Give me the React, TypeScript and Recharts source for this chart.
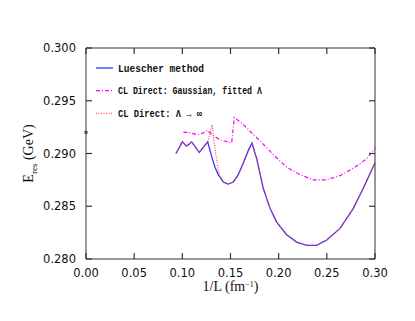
import { ComposedChart, Line, Scatter, XAxis, YAxis, Legend } from 'recharts';

// [1/L in fm^-1, E_res in GeV]
const luescher: [number, number][] = [
  [0.0934, 0.29], [0.1, 0.2911], [0.1045, 0.2907], [0.1097, 0.2911], [0.1176, 0.2901],
  [0.1263, 0.2911], [0.1305, 0.2897], [0.1339, 0.2887], [0.1373, 0.288], [0.1425, 0.2873],
  [0.1477, 0.2871], [0.1529, 0.2873], [0.1581, 0.288], [0.1633, 0.2891], [0.1685, 0.2903],
  [0.1723, 0.291], [0.1772, 0.2895], [0.184, 0.2867], [0.191, 0.2848], [0.1979, 0.2835],
  [0.2083, 0.2823], [0.2187, 0.2816], [0.2291, 0.2813], [0.2395, 0.2813], [0.2499, 0.2818],
  [0.2637, 0.2829], [0.2775, 0.2848], [0.2878, 0.2867], [0.3, 0.2891],
];

const clGaussian: [number, number][] = [
  [0.101, 0.292], [0.1062, 0.292], [0.1149, 0.2918], [0.1204, 0.2919], [0.1263, 0.2922],
  [0.1305, 0.2918], [0.1391, 0.2913], [0.1512, 0.291], [0.1539, 0.2934], [0.1616, 0.2929],
  [0.1737, 0.2918], [0.1806, 0.2912], [0.1944, 0.2899], [0.2083, 0.2887], [0.2221, 0.288],
  [0.2359, 0.2875], [0.2499, 0.2875], [0.2637, 0.2879], [0.2775, 0.2886], [0.2914, 0.2895],
  [0.3, 0.2905],
];

const clInfinite: [number, number][] = [
  [0.0934, 0.29], [0.1, 0.2911], [0.1045, 0.2907], [0.1097, 0.2911], [0.1176, 0.2901],
  [0.1263, 0.2911], [0.1311, 0.2927], [0.1321, 0.2916], [0.1356, 0.2894], [0.1384, 0.288],
  [0.1425, 0.2873], [0.1477, 0.2871], [0.1529, 0.2873], [0.1581, 0.288], [0.1633, 0.289],
  [0.1685, 0.2902], [0.1725, 0.2908], [0.1772, 0.2895], [0.184, 0.2867], [0.191, 0.2848],
  [0.1979, 0.2835], [0.2083, 0.2823], [0.2187, 0.2816], [0.2291, 0.2813], [0.2395, 0.2813],
  [0.2499, 0.2818], [0.2637, 0.2829], [0.2775, 0.2848], [0.2878, 0.2867], [0.3, 0.2891],
];

const limitPoint: [number, number][] = [[0, 0.292]];

const xTicks = [0, 0.05, 0.1, 0.15, 0.2, 0.25, 0.3];
const yTicks = [0.28, 0.285, 0.29, 0.295, 0.3];

const legendItems = [
  { label: 'Luescher method', color: '#3333ff', dash: undefined, width: 86 },
  { label: 'CL Direct: Gaussian, fitted Λ', color: '#ff00ff', dash: '4 2 1 2', width: 144 },
  { label: 'CL Direct: Λ → ∞', color: '#ff4444', dash: '1 1.5', width: 84 },
];

const toRows = (pts: [number, number][]) => pts.map(([x, y]) => ({ x, y }));

const AXIS = '#333';
const tickLineStyle = { stroke: '#333', strokeWidth: 1.2 };

const bottomLabel = ({ x, y, payload }: any) => (
  <text x={x} y={y + 9} textAnchor="middle" fontFamily="DejaVu Sans" fontSize={11.5} fill="#111">
    {payload.value.toFixed(2)}
  </text>
);

const leftLabel = ({ x, y, payload }: any) => (
  <text x={x} y={y + 4.2} textAnchor="end" fontFamily="DejaVu Sans" fontSize={11.5} fill="#111">
    {payload.value.toFixed(3)}
  </text>
);

const noLabel = () => <g />;

function XTitle({ viewBox }: any) {
  const cx = viewBox.x + viewBox.width / 2;
  return (
    <text x={cx} y={291} textAnchor="middle" fontFamily="Liberation Serif" fontSize={14} fill="#111">
      1/L  (fm<tspan dy={-4} fontSize={8}>−1</tspan><tspan dy={4}>)</tspan>
    </text>
  );
}

function YTitle({ viewBox }: any) {
  const cy = viewBox.y + viewBox.height / 2;
  const x = 33;
  return (
    <text x={x} y={cy} transform={`rotate(-90 ${x} ${cy})`} textAnchor="middle" fontFamily="Liberation Serif" fontSize={14} fill="#111">
      E<tspan dy={4} fontSize={9}>res</tspan><tspan dy={-4}>  (GeV)</tspan>
    </text>
  );
}

function LegendBox() {
  return (
    <svg width={300} height={130} style={{ display: 'block', pointerEvents: 'none' }}>
      {legendItems.map((it, i) => {
        const y = 68 + i * 22.7;
        return (
          <g key={it.label}>
            <line x1={96} x2={113} y1={y} y2={y} stroke={it.color} strokeWidth={1.3} strokeDasharray={it.dash} />
            <text x={118} y={y + 3.6} fontFamily="Liberation Mono" fontWeight="bold" fontSize={10.5} fill="#111"
              textLength={it.width} lengthAdjust="spacingAndGlyphs">
              {it.label}
            </text>
          </g>
        );
      })}
    </svg>
  );
}

export default function App() {
  return (
    <div style={{ width: 415, height: 321 }}>
      <style>{'body{margin:0}'}</style>
      <ComposedChart width={415} height={321} margin={{ top: 38, right: 30, bottom: 22, left: 26 }}>
        <XAxis xAxisId="b" type="number" dataKey="x" domain={[0, 0.3]} ticks={xTicks} interval={0}
          tick={bottomLabel} tickLine={tickLineStyle} tickSize={-6} tickMargin={15}
          stroke={AXIS} height={40} label={<XTitle />} />
        <XAxis xAxisId="t" orientation="top" type="number" dataKey="x" domain={[0, 0.3]} ticks={xTicks}
          interval={0} tick={noLabel} tickLine={tickLineStyle} tickSize={-6}
          stroke={AXIS} height={10} />
        <YAxis yAxisId="l" type="number" dataKey="y" domain={[0.28, 0.3]} ticks={yTicks} interval={0}
          tick={leftLabel} tickLine={tickLineStyle} tickSize={-6} tickMargin={16}
          stroke={AXIS} width={60} label={<YTitle />} />
        <YAxis yAxisId="r" orientation="right" type="number" dataKey="y" domain={[0.28, 0.3]} ticks={yTicks}
          interval={0} tick={noLabel} tickLine={tickLineStyle} tickSize={-6}
          stroke={AXIS} width={10} />
        <Legend layout="vertical" align="center" verticalAlign="middle" content={<LegendBox />}
          wrapperStyle={{ top: 0, left: 0, width: 300, height: 130 }} />
        {/* top/right axes share the same domain; this series keeps their ticks alive */}
        <Line xAxisId="t" yAxisId="r" data={toRows(clGaussian)} dataKey="y" type="linear" stroke="#ff00ff"
          strokeWidth={1.2} strokeDasharray="4 2 1 2" dot={false} isAnimationActive={false} legendType="none" />
        <Line xAxisId="b" yAxisId="l" data={toRows(luescher)} dataKey="y" type="linear" stroke="#3333ff"
          strokeWidth={1.3} dot={false} isAnimationActive={false} legendType="none" />
        <Line xAxisId="b" yAxisId="l" data={toRows(clInfinite)} dataKey="y" type="linear" stroke="#ff4444"
          strokeWidth={1.2} strokeDasharray="1 1.5" dot={false} isAnimationActive={false} legendType="none" />
        <Scatter xAxisId="b" yAxisId="l" data={toRows(limitPoint)} fill="#444" isAnimationActive={false}
          shape={(p: any) => <rect x={p.cx - 1.5} y={p.cy - 1.5} width={3} height={3} fill="#444" />} />
      </ComposedChart>
    </div>
  );
}
